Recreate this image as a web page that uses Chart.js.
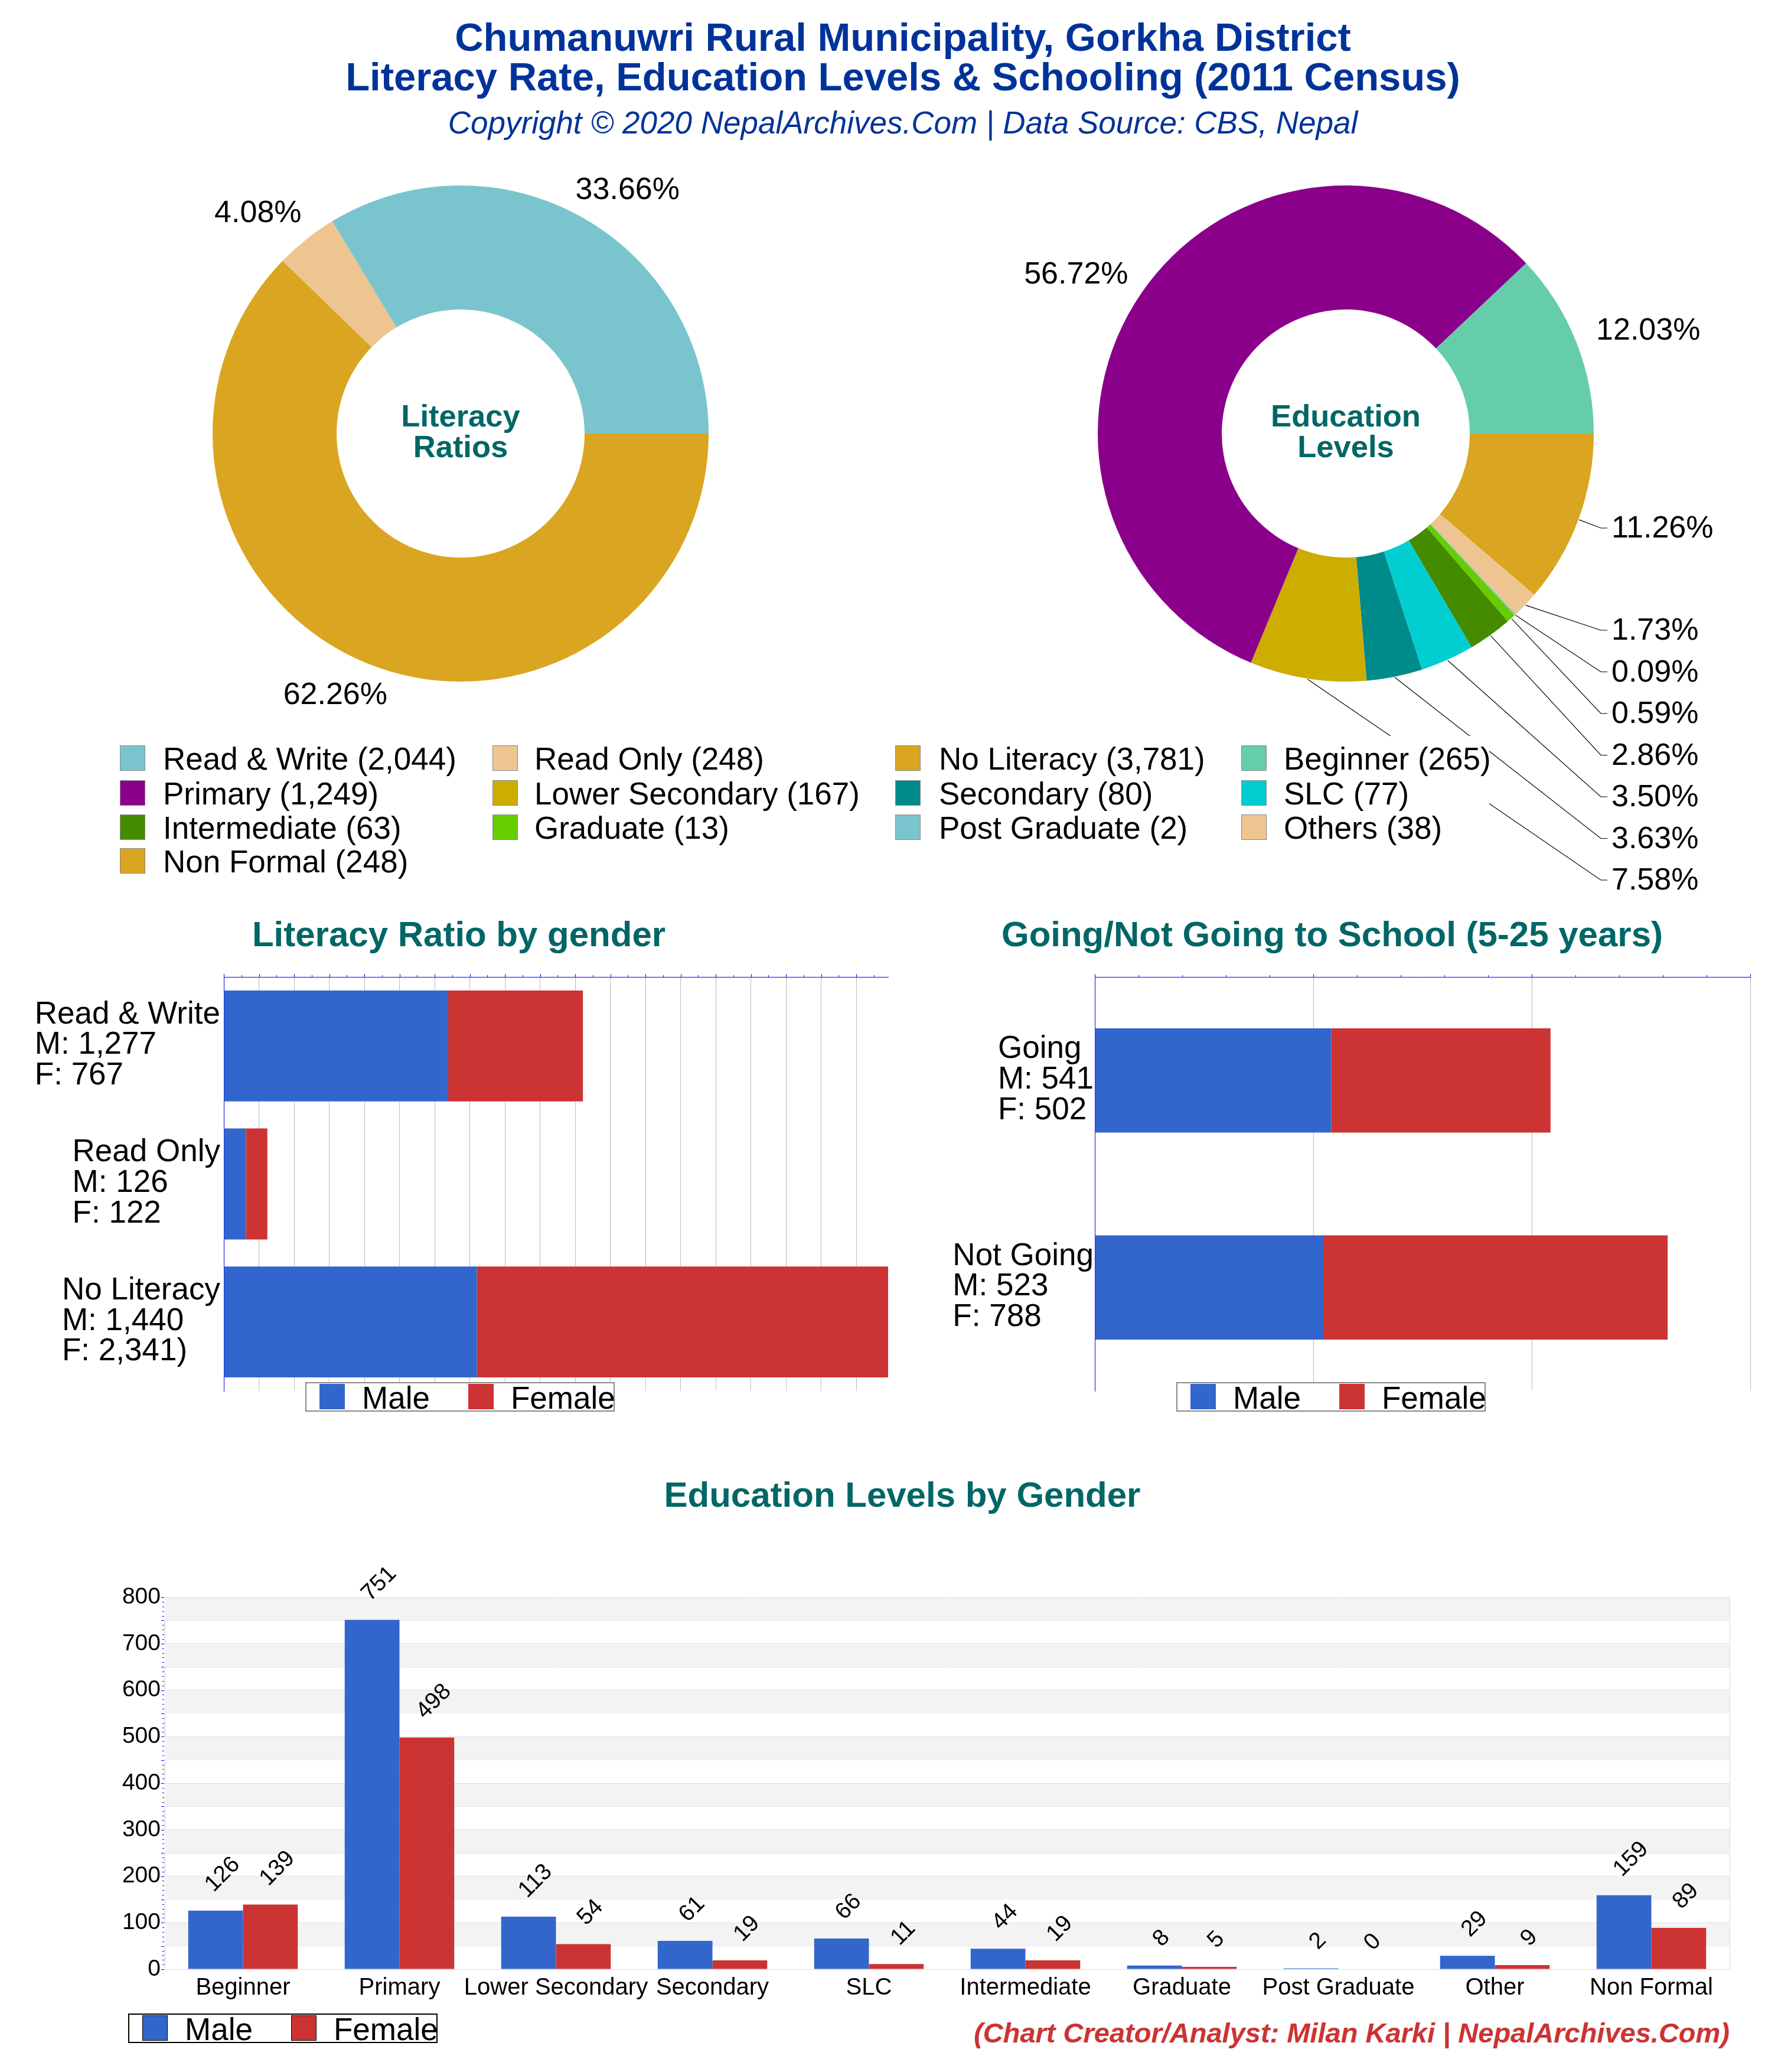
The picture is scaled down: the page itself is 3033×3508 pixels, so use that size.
<!DOCTYPE html>
<html>
<head>
<meta charset="utf-8">
<title>Literacy Rate, Education Levels & Schooling</title>
<script src="https://cdn.jsdelivr.net/npm/chart.js@4"></script>
<style>
  html, body { margin: 0; padding: 0; background: #fff; }
  #page { position: relative; width: 3033px; height: 3508px; overflow: hidden; font-family: "Liberation Sans", Arial, sans-serif; }
  canvas { position: absolute; }
  .txt { position: absolute; white-space: nowrap; transform: translate(-50%, -50%); }
  .box { position: absolute; box-sizing: border-box; background: #fff; }
</style>
</head>
<body>
<div id="page"></div>
<script>
// ---------- data ----------
const literacyLabels = ["Read & Write", "Read Only", "No Literacy"];
const literacyValues = [2044, 248, 3781];
const literacyColors = ["#7AC5CD", "#EEC591", "#DAA520"];

const educationLabels = ["Beginner", "Primary", "Lower Secondary", "Secondary", "SLC", "Intermediate", "Graduate", "Post Graduate", "Others", "Non Formal"];
const educationValues = [265, 1249, 167, 80, 77, 63, 13, 2, 38, 248];
const educationColors = ["#66CDAA", "#8B008B", "#CDAD00", "#008B8B", "#00CED1", "#458B00", "#66CD00", "#7AC5CD", "#EEC591", "#DAA520"];

const literacyTicks = [["Read & Write", "M: 1,277", "F: 767"], ["Read Only", "M: 126", "F: 122"], ["No Literacy", "M: 1,440", "F: 2,341)"]];
const literacyMale = [1277, 126, 1440];
const literacyFemale = [767, 122, 2341];

const schoolTicks = [["Going", "M: 541", "F: 502"], ["Not Going", "M: 523", "F: 788"]];
const schoolMale = [541, 523];
const schoolFemale = [502, 788];

const levelCategories = ["Beginner", "Primary", "Lower Secondary", "Secondary", "SLC", "Intermediate", "Graduate", "Post Graduate", "Other", "Non Formal"];
const levelMale = [126, 751, 113, 61, 66, 44, 8, 2, 29, 159];
const levelFemale = [139, 498, 54, 19, 11, 19, 5, 0, 9, 89];

const MALE = "#3366CC", FEMALE = "#CC3333", TEAL = "#006666", NAVY = "#003399";
const FONT = '"Liberation Sans", Arial, sans-serif';
const num = (n) => n.toLocaleString("en-US");

Chart.defaults.font.family = FONT;
Chart.defaults.color = "#000";
Chart.defaults.animation = false;

const page = document.getElementById("page");

// ---------- dom helpers ----------
function addText(str, x, y, css) {
  const d = document.createElement("div");
  d.className = "txt";
  d.textContent = str;
  d.style.cssText = `left:${x}px;top:${y}px;${css}`;
  page.appendChild(d);
  return d;
}
function addBox(x, y, w, h, css) {
  const d = document.createElement("div");
  d.className = "box";
  d.style.cssText = `left:${x}px;top:${y}px;width:${w}px;height:${h}px;${css || ""}`;
  page.appendChild(d);
  return d;
}
function addCanvas(x, y, w, h) {
  const c = document.createElement("canvas");
  c.width = w; c.height = h;
  c.style.cssText = `left:${x}px;top:${y}px;width:${w}px;height:${h}px`;
  page.appendChild(c);
  return c.getContext("2d");
}
function genderLegend(x, y, line) {
  addBox(x, y, 524, 50, `border:2px solid ${line};z-index:3`);
  [["Male", MALE, 24, 96], ["Female", FEMALE, 276, 348]].forEach(([name, color, sx, tx]) => {
    addBox(x + sx, y + 3, 43, 43, `background:${color};z-index:4;` + (line === "#000" ? "border:1px solid #000" : ""));
    const t = addText(name, x + tx, y + 26, "font-size:53px;z-index:4");
    t.style.transform = "translate(0,-50%)";
  });
}

// ---------- plugins ----------
// percent labels around the donuts, with leader lines for the small slices
const donutLabels = {
  id: "donutLabels",
  afterDraw(chart, args, opts) {
    const { ctx } = chart;
    const arcs = chart.getDatasetMeta(0).data;
    const values = chart.data.datasets[0].data;
    const total = values.reduce((a, b) => a + b, 0);
    ctx.save();
    ctx.font = `52px ${FONT}`;
    ctx.fillStyle = "#000";
    ctx.textBaseline = "middle";
    arcs.forEach((arc, i) => {
      const mid = (arc.startAngle + arc.endAngle) / 2;
      const px = arc.x + Math.cos(mid) * (arc.outerRadius + 1);
      const py = arc.y + Math.sin(mid) * (arc.outerRadius + 1);
      const str = (values[i] / total * 100).toFixed(2) + "%";
      if (opts.rows && i < opts.rows.length) {
        const ry = opts.rows[i] - opts.top;
        const ex = opts.elbowX - opts.left;
        ctx.strokeStyle = "#000";
        ctx.lineWidth = 1.2;
        ctx.beginPath();
        ctx.moveTo(px, py);
        ctx.lineTo(ex, ry);
        ctx.lineTo(ex + 11, ry);
        ctx.stroke();
        ctx.textAlign = "left";
        ctx.fillText(str, ex + 18, ry + 2);
      } else {
        const [dx, dy] = opts.offsets[i];
        ctx.textAlign = "center";
        ctx.fillText(str, px + dx, py + dy);
      }
    });
    ctx.font = `bold 52.5px ${FONT}`;
    ctx.fillStyle = TEAL;
    ctx.textAlign = "center";
    ctx.fillText(opts.center[0], arcs[0].x, arcs[0].y - 26);
    ctx.fillText(opts.center[1], arcs[0].x, arcs[0].y + 26);
    ctx.restore();
  }
};

// blue major/minor tick marks on the value axis
const axisTicks = {
  id: "axisTicks",
  afterDraw(chart, args, opts) {
    const { ctx } = chart;
    const scale = chart.scales[opts.axis];
    ctx.save();
    ctx.strokeStyle = "#0000FF";
    ctx.lineWidth = 1;
    ctx.beginPath();
    for (let v = scale.min; v <= scale.max; v += opts.minor) {
      const len = v % opts.major === 0 ? 5 : 3;
      const p = Math.round(scale.getPixelForValue(v)) + 0.5;
      if (opts.axis === "x") {
        ctx.moveTo(p, chart.chartArea.top);
        ctx.lineTo(p, chart.chartArea.top - len);
      } else {
        ctx.moveTo(chart.chartArea.left - 1, p);
        ctx.lineTo(chart.chartArea.left - 1 - len, p);
      }
    }
    ctx.stroke();
    ctx.restore();
  }
};

// three-line category labels: left aligned lines, block pushed against the axis
const blockLabels = {
  id: "blockLabels",
  afterDraw(chart, args, opts) {
    const { ctx } = chart;
    const scale = chart.scales.y;
    ctx.save();
    ctx.font = `53px ${FONT}`;
    ctx.fillStyle = "#000";
    ctx.textAlign = "left";
    ctx.textBaseline = "middle";
    opts.lines.forEach((lines, i) => {
      const w = Math.max(...lines.map((s) => ctx.measureText(s).width));
      const x = chart.chartArea.left - opts.gap - w;
      const y = scale.getPixelForTick(i) - 1;
      lines.forEach((s, j) => ctx.fillText(s, x, y + (j - 1) * 51.7));
    });
    ctx.restore();
  }
};

// alternating bands + right edge behind the bars of the bottom chart
const bands = {
  id: "bands",
  beforeDatasetsDraw(chart, args, opts) {
    const { ctx, chartArea: a } = chart;
    const y = chart.scales.y;
    ctx.save();
    ctx.fillStyle = "#F3F3F3";
    for (let v = 50; v < y.max; v += 100) {
      const top = y.getPixelForValue(v + 50), bot = y.getPixelForValue(v);
      ctx.fillRect(a.left, top + 1, a.right - a.left, bot - top - 1);
    }
    ctx.strokeStyle = "#DDD";
    ctx.lineWidth = 1;
    ctx.beginPath();
    ctx.moveTo(a.right + 0.5, a.top);
    ctx.lineTo(a.right + 0.5, a.bottom);
    ctx.stroke();
    ctx.restore();
  }
};

// value labels turned 45 degrees; the bottom of the turned text sits at a fixed gap above the bar
const barValues = {
  id: "barValues",
  afterDatasetsDraw(chart) {
    const { ctx } = chart;
    ctx.save();
    ctx.font = `39px ${FONT}`;
    ctx.fillStyle = "#000";
    ctx.textAlign = "center";
    ctx.textBaseline = "middle";
    chart.data.datasets.forEach((ds, d) => {
      chart.getDatasetMeta(d).data.forEach((bar, i) => {
        const str = String(ds.data[i]);
        const half = ctx.measureText(str).width / 2 * Math.SQRT1_2;
        ctx.save();
        ctx.translate(bar.x + 12, bar.y - 38 - half);
        ctx.rotate(-Math.PI / 4);
        ctx.fillText(str, 0, 0);
        ctx.restore();
      });
    });
    ctx.restore();
  }
};

// ---------- donuts ----------
function donut(ctx, labels, values, colors, pad, labelOpts) {
  return new Chart(ctx, {
    type: "doughnut",
    // the original runs counter-clockwise from 3 o'clock; chart.js only goes clockwise
    data: {
      labels: labels.slice().reverse(),
      datasets: [{ data: values.slice().reverse(), backgroundColor: colors.slice().reverse(), borderWidth: 0 }]
    },
    options: {
      responsive: false,
      devicePixelRatio: 1,
      rotation: 90,
      cutout: "50%",
      layout: { padding: pad },
      plugins: { legend: { display: false }, tooltip: { enabled: false }, donutLabels: labelOpts }
    },
    plugins: [donutLabels]
  });
}

donut(addCanvas(140, 264, 1279, 980), literacyLabels, literacyValues, literacyColors,
  { left: 220, right: 219, top: 50, bottom: 90 },
  { offsets: [[-54, 53], [-81, -43], [76, -45]], center: ["Literacy", "Ratios"] });

donut(addCanvas(1600, 264, 1433, 1280), educationLabels, educationValues, educationColors,
  { left: 259, right: 334, top: 50, bottom: 390 },
  {
    left: 1600, top: 264, elbowX: 2711,
    rows: [894, 1067, 1137.5, 1208, 1278.5, 1349, 1419.5, 1490],
    offsets: { 8: [-110, -29], 9: [121, -18] },
    center: ["Education", "Levels"]
  });

// ---------- stacked horizontal bars ----------
function genderBars(ctx, ticks, male, female, cfg) {
  return new Chart(ctx, {
    type: "bar",
    data: {
      labels: ticks.map((t) => t[0]),
      datasets: [
        { label: "Male", data: male, backgroundColor: MALE },
        { label: "Female", data: female, backgroundColor: FEMALE }
      ]
    },
    options: {
      indexAxis: "y",
      responsive: false,
      devicePixelRatio: 1,
      barPercentage: cfg.barPercentage,
      categoryPercentage: 1,
      layout: { padding: { right: cfg.right, bottom: 45 } },
      scales: {
        x: {
          position: "top", stacked: true, min: 0, max: cfg.max,
          ticks: { display: false, stepSize: cfg.step },
          // chart.js stretches the step to fit a max that is not a multiple, so list the lines here
          afterBuildTicks: (s) => {
            const lines = [];
            for (let v = 0; v <= cfg.max; v += cfg.step) lines.push({ value: v });
            s.ticks = lines;
          },
          afterFit: (s) => { s.height = 54; },
          grid: { color: "#BBB", lineWidth: 1, drawTicks: false },
          border: { color: "#0000FF", width: 1 }
        },
        y: {
          stacked: true,
          ticks: { display: false },
          afterFit: (s) => { s.width = cfg.axisWidth; },
          grid: { display: false },
          border: { color: "#0000FF", width: 1 }
        }
      },
      plugins: {
        legend: { display: false },
        tooltip: { enabled: false },
        axisTicks: { axis: "x", minor: 100, major: cfg.major },
        blockLabels: { lines: ticks, gap: cfg.gap }
      }
    },
    plugins: [axisTicks, blockLabels]
  });
}

genderBars(addCanvas(0, 1600, 1516, 800), literacyTicks, literacyMale, literacyFemale,
  { max: 3781, step: 200, major: 200, right: 12, axisWidth: 379, barPercentage: 0.804, gap: 6 });

genderBars(addCanvas(1516, 1600, 1517, 800), schoolTicks, schoolMale, schoolFemale,
  { max: 1500, step: 500, major: 500, right: 69, axisWidth: 338, barPercentage: 0.503, gap: 2 });

// ---------- grouped bars ----------
new Chart(addCanvas(0, 2600, 3033, 808), {
  type: "bar",
  data: {
    labels: levelCategories,
    datasets: [
      { label: "Male", data: levelMale, backgroundColor: MALE },
      { label: "Female", data: levelFemale, backgroundColor: FEMALE }
    ]
  },
  options: {
    responsive: false,
    devicePixelRatio: 1,
    barPercentage: 1,
    categoryPercentage: 0.7,
    layout: { padding: { top: 104, right: 104 } },
    scales: {
      x: {
        ticks: { font: { size: 40 }, padding: 0, maxRotation: 0, minRotation: 0, autoSkip: false },
        afterFit: (s) => { s.height = 74; },
        grid: { display: false },
        border: { color: "#DDD", width: 1 }
      },
      y: {
        min: 0, max: 800,
        ticks: {
          stepSize: 50, autoSkip: false, padding: 7, font: { size: 39 },
          callback: (v) => (v % 100 === 0 ? v : "")
        },
        afterFit: (s) => { s.width = 279; },
        grid: { color: "#DDD", lineWidth: 1, drawTicks: false },
        border: { color: "#CCC", width: 1 }
      }
    },
    plugins: {
      legend: { display: false },
      tooltip: { enabled: false },
      axisTicks: { axis: "y", minor: 10, major: 50 }
    }
  },
  plugins: [bands, axisTicks, barValues]
});

// ---------- legends and titles ----------
addBox(190, 1246, 2332, 245, "z-index:2"); // white sheet, hides the leader lines like the original

const legendNames = [...literacyLabels.map((n, i) => [n, literacyValues[i], literacyColors[i]]),
                     ...educationLabels.map((n, i) => [n, educationValues[i], educationColors[i]])];
const legendCols = [[203, 276], [834, 905], [1516, 1590], [2102, 2174]];
const legendRows = [1284, 1343, 1401, 1458];
legendNames.forEach(([name, val, color], i) => {
  const [sx, tx] = legendCols[i % 4];
  const y = legendRows[Math.floor(i / 4)];
  addBox(sx, y - 22, 43, 43, `background:${color};border:1px solid #888;z-index:4`);
  const t = addText(`${name} (${num(val)})`, tx, y, "font-size:53px;z-index:4");
  t.style.transform = "translate(0,-50%)";
});

genderLegend(517, 2340, "#888");
genderLegend(1992, 2340, "#888");
genderLegend(217, 3409, "#000");

addText("Chumanuwri Rural Municipality, Gorkha District", 1529, 62, `font:bold 67px ${FONT};color:${NAVY}`);
addText("Literacy Rate, Education Levels & Schooling (2011 Census)", 1529, 129, `font:bold 67px ${FONT};color:${NAVY}`);
addText("Copyright © 2020 NepalArchives.Com | Data Source: CBS, Nepal", 1529, 207, `font:italic 53px ${FONT};color:${NAVY}`);
addText("Literacy Ratio by gender", 777, 1581, `font:bold 60px ${FONT};color:${TEAL}`);
addText("Going/Not Going to School (5-25 years)", 2256, 1581, `font:bold 60px ${FONT};color:${TEAL}`);
addText("Education Levels by Gender", 1528, 2530, `font:bold 60px ${FONT};color:${TEAL}`);
const credit = addText("(Chart Creator/Analyst: Milan Karki | NepalArchives.Com)", 2929, 3441, `font:italic bold 47px ${FONT};color:${FEMALE}`);
credit.style.transform = "translate(-100%,-50%)";
</script>
</body>
</html>
